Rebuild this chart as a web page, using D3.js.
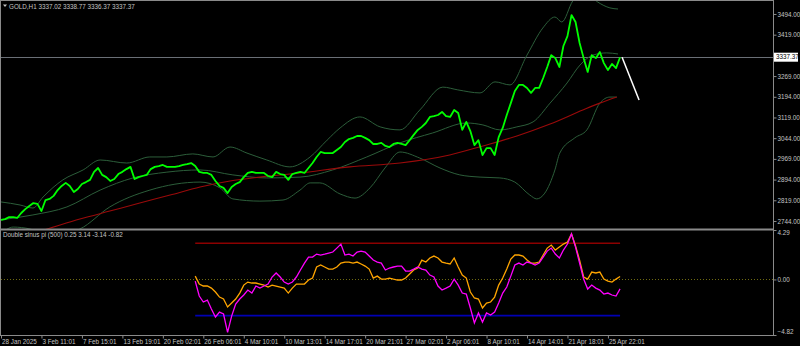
<!DOCTYPE html>
<html>
<head>
<meta charset="utf-8">
<script src="https://cdn.jsdelivr.net/npm/d3@7"></script>
<style>
  html, body { margin: 0; padding: 0; background: #000; }
  svg { display: block; }
  text { font-family: "Liberation Sans", Arial, sans-serif; }
</style>
</head>
<body>
<div id="chart"></div>
<script>
// ---- data (bars are H1 bar numbers from the left edge, prices in USD) ----
const closeStep = 10;
const close = [
  2748, 2751, 2758, 2758, 2755, 2773, 2787, 2798, 2809, 2806,
  2780, 2820, 2824, 2835, 2856, 2871, 2882, 2871, 2849, 2860,
  2878, 2885, 2893, 2922, 2936, 2911, 2903, 2889, 2896, 2914,
  2922, 2932, 2940, 2896, 2903, 2907, 2911, 2932, 2940, 2943,
  2947, 2940, 2940, 2940, 2943, 2947, 2950, 2954, 2943, 2922,
  2918, 2918, 2911, 2889, 2871, 2864, 2845, 2867, 2878, 2885,
  2903, 2918, 2922, 2918, 2918, 2918, 2907, 2903, 2922, 2914,
  2911, 2893, 2914, 2918, 2922, 2918, 2936, 2954, 2976, 2994,
  2990, 2990, 2990, 3001, 3012, 3030, 3041, 3045, 3052, 3052,
  3045, 3037, 3023, 3023, 3027, 3016, 3012, 3023, 3027, 3023,
  3019, 3037, 3056, 3074, 3085, 3099, 3121, 3124, 3128, 3139,
  3124, 3121, 3146, 3135, 3074, 3103, 3070, 3019, 3037, 2983,
  3008, 3008, 2983, 3048, 3081, 3128, 3171, 3215, 3237, 3237,
  3226, 3208, 3226, 3226, 3262, 3302, 3345, 3334, 3302, 3378,
  3414, 3490, 3465, 3389, 3334, 3284, 3345, 3334, 3356, 3316,
  3291, 3313, 3298, 3337.37
];

// Bollinger bands and moving average: [bar, price]
const bandUpper = [[0,2813],[47,2802],[79,2791],[104,2831],[153,2893],[203,2929],[245,2965],[311,2954],
  [368,2976],[410,2976],[474,2987],[524,2976],[566,3012],[608,2990],[657,2965],[714,2940],[764,2976],
  [806,3037],[838,3081],[887,3121],[937,3085],[986,3074],[1035,3146],[1092,3229],[1129,3219],[1184,3208],
  [1221,3248],[1258,3237],[1300,3345],[1339,3443],[1369,3483],[1386,3465],[1413,3541],[1443,3574],
  [1475,3537],[1505,3516],[1525,3512]];
const bandMiddle = [[0,2748],[79,2766],[163,2795],[245,2856],[326,2900],[410,2921],[492,2929],[573,2911],
  [657,2900],[739,2903],[820,2929],[904,2976],[986,3027],[1067,3063],[1151,3099],[1191,3092],[1233,3074],
  [1275,3085],[1315,3103],[1357,3171],[1399,3244],[1431,3309],[1463,3345],[1497,3353],[1525,3349]];
const bandLower = [[0,2697],[30,2722],[72,2715],[121,2690],[195,2715],[269,2795],[368,2856],[492,2885],
  [541,2864],[573,2824],[640,2816],[697,2820],[739,2856],[764,2882],[788,2882],[838,2842],[875,2827],
  [912,2864],[949,2936],[986,2994],[1035,2972],[1085,2936],[1134,2911],[1184,2903],[1233,2900],
  [1270,2885],[1307,2838],[1324,2824],[1344,2845],[1369,2929],[1381,2990],[1418,3045],[1448,3074],
  [1480,3171],[1505,3193],[1522,3193]];
const maLine = [[47,2686],[114,2715],[195,2751],[269,2780],[343,2809],[418,2838],[492,2867],[566,2889],
  [640,2903],[739,2918],[862,2940],[986,2954],[1109,2983],[1191,3016],[1275,3052],[1357,3095],
  [1438,3146],[1480,3171],[1522,3193]];
const trendLine = [[1535, 3337.37], [1577, 3182]];

// indicator "Double sinus pi (500)"
const indStart = 480, indStep = 10;
const sinusA = [ // magenta
  -0.14, -1.44, -1.96, -1.79, -2.57, -3.26, -2.83, -3.00, -4.60, -3.18,
  -2.13, -1.70, -1.35, -0.92, -1.18, -0.57, -0.75, -0.57, -0.40, 0.21,
  0.56, 0.21, -0.23, -0.40, -0.23, 0.21, 0.82, 1.42, 1.94, 1.94,
  2.20, 2.12, 2.20, 2.29, 2.38, 2.72, 3.07, 2.12, 2.20, 2.03,
  2.38, 2.46, 2.38, 2.03, 1.68, 1.51, 1.42, 0.82, 0.99, 1.08,
  1.16, 1.16, 0.73, 0.73, 0.90, 1.08, 0.90, 0.82, 0.38, 0.21,
  -0.57, -0.92, -0.75, -0.57, 0.03, -0.49, -1.18, -1.27, -2.48, -3.78,
  -2.91, -3.70, -2.91, -3.09, -2.83, -2.05, -1.18, -0.66, 0.29, 1.25,
  1.42, 1.25, 1.51, 1.42, 1.25, 1.42, 1.94, 2.46, 2.72, 2.20,
  1.86, 2.55, 3.07, 3.95, 2.81, 1.42, 0.03, -0.83, -0.49, -0.75,
  -0.92, -1.27, -1.18, -1.35, -1.44, -0.82
];
const sinusB = [ // orange
  0.29, -0.40, -0.57, -0.57, -0.75, -1.09, -1.53, -1.70, -2.39, -2.05,
  -1.70, -1.18, -0.49, -0.23, -0.31, -0.31, -0.40, -0.49, -0.66, -0.49,
  -0.57, -0.66, -0.75, -1.18, -0.75, -0.40, -0.40, -0.40, -0.05, 0.12,
  1.08, 1.25, 1.08, 0.90, 0.90, 1.08, 1.42, 1.51, 1.51, 1.42,
  1.51, 1.34, 1.16, 0.90, 0.12, 0.29, 0.03, 0.03, 0.12, 0.03,
  -0.05, -0.05, 0.12, 0.47, 0.82, 0.99, 1.68, 1.51, 1.86, 2.03,
  1.86, 1.51, 1.42, 1.34, 1.86, 1.08, 0.38, 0.12, -1.09, -1.61,
  -1.70, -2.48, -2.05, -1.96, -1.53, -0.49, 0.12, 0.90, 1.77, 2.12,
  2.12, 2.03, 1.68, 1.42, 1.42, 1.51, 2.12, 2.72, 2.98, 2.55,
  2.81, 3.07, 3.24, 3.95, 2.90, 1.68, 0.21, 0.03, 0.64, 0.56,
  0.64, 0.03, -0.14, -0.23, 0.03, 0.25
];
const levels = [3.14, -3.14];

const priceTicks = [2744, 2819, 2894, 2969, 3044, 3119, 3194, 3269, 3419, 3494];
const lastPrice = 3337.37;
const indTicks = [4.29, 0, -4.82];
const timeLabels = ["28 Jan 2025", "3 Feb 11:01", "7 Feb 15:01", "13 Feb 19:01", "20 Feb 02:01",
  "26 Feb 06:01", "4 Mar 10:01", "10 Mar 13:01", "14 Mar 17:01", "20 Mar 21:01", "27 Mar 02:01",
  "2 Apr 06:01", "8 Apr 10:01", "14 Apr 14:01", "21 Apr 18:01", "25 Apr 22:01"];
const timeBars = timeLabels.map((d, i) => i * 100);

// ---- layout ----
const W = 800, H = 346;
const right = 773;
const mainTop = 1, mainBot = 229, indTop = 230, indBot = 335;

const svg = d3.select("#chart").append("svg").attr("width", W).attr("height", H)
  .style("background", "#000");

const x = d3.scaleLinear().domain([0, 1908]).range([1, right]);
const yP = d3.scaleLinear().domain([2715, 3541]).range([mainBot, mainTop]);
const yI = d3.scaleLinear().domain([-4.82, 4.29]).range([indBot, indTop]);

const defs = svg.append("defs");
defs.append("clipPath").attr("id", "clipMain").append("rect")
  .attr("x", 1).attr("y", mainTop).attr("width", right - 1).attr("height", mainBot - mainTop);
defs.append("clipPath").attr("id", "clipInd").append("rect")
  .attr("x", 1).attr("y", indTop).attr("width", right - 1).attr("height", indBot - indTop);

const line = d3.line().x(d => x(d[0])).y(d => yP(d[1]));

// ---- main panel ----
const gMain = svg.append("g").attr("clip-path", "url(#clipMain)");

// bid line
gMain.append("line")
  .attr("x1", 0).attr("x2", right)
  .attr("y1", Math.round(yP(lastPrice)) + 0.5).attr("y2", Math.round(yP(lastPrice)) + 0.5)
  .attr("stroke", "#6a6f76").attr("stroke-width", 1);

[bandUpper, bandMiddle, bandLower].forEach(b => {
  gMain.append("path").datum(b).attr("d", line.curve(d3.curveMonotoneX))
    .attr("fill", "none").attr("stroke", "#2c5e3a").attr("stroke-width", 1);
});
line.curve(d3.curveLinear);

gMain.append("path").datum(maLine).attr("d", line.curve(d3.curveMonotoneX))
  .attr("fill", "none").attr("stroke", "#9a0a0a").attr("stroke-width", 1.1);
line.curve(d3.curveLinear);

gMain.append("path").datum(close.map((v, i) => [i * closeStep, v])).attr("d", line)
  .attr("fill", "none").attr("stroke", "#00ff00").attr("stroke-width", 1.8)
  .attr("stroke-linejoin", "round");

gMain.append("path").datum(trendLine).attr("d", line)
  .attr("fill", "none").attr("stroke", "#ffffff").attr("stroke-width", 1.5);

// ---- indicator panel ----
const gInd = svg.append("g").attr("clip-path", "url(#clipInd)");
const lineI = d3.line().x(d => x(d[0])).y(d => yI(d[1]));

gInd.append("line")
  .attr("x1", 1).attr("x2", right)
  .attr("y1", Math.round(yI(0)) + 0.5).attr("y2", Math.round(yI(0)) + 0.5)
  .attr("stroke", "#6e6a10").attr("stroke-dasharray", "1,2");

const indEnd = indStart + (sinusA.length - 1) * indStep;
levels.forEach((lv, i) => {
  gInd.append("line")
    .attr("x1", x(indStart)).attr("x2", x(indEnd))
    .attr("y1", yI(lv)).attr("y2", yI(lv))
    .attr("stroke", i === 0 ? "#8c0000" : "#0000b4").attr("stroke-width", 1.6);
});

gInd.append("path").datum(sinusB.map((v, i) => [indStart + i * indStep, v])).attr("d", lineI)
  .attr("fill", "none").attr("stroke", "#ffa500").attr("stroke-width", 1.3);
gInd.append("path").datum(sinusA.map((v, i) => [indStart + i * indStep, v])).attr("d", lineI)
  .attr("fill", "none").attr("stroke", "#ff00ff").attr("stroke-width", 1.3);

// ---- frames ----
svg.append("rect").attr("x", 0.5).attr("y", 0.5).attr("width", right).attr("height", indBot)
  .attr("fill", "none").attr("stroke", "#8a8a8a");
svg.append("line").attr("x1", 0).attr("x2", right + 1).attr("y1", 229.5).attr("y2", 229.5)
  .attr("stroke", "#8a8a8a").attr("stroke-width", 2);

// ---- axes ----
const axisColor = "#c4c4c4";
function styleAxis(g) {
  g.select(".domain").remove();
  g.selectAll("line").attr("stroke", "#8a8a8a");
  g.selectAll("text").attr("fill", axisColor).style("font-size", "6.3px");
}

svg.append("g").attr("transform", `translate(${right + 0.5},0)`)
  .call(d3.axisRight(yP).tickValues(priceTicks).tickFormat(d3.format(".2f")).tickSize(3).tickPadding(1))
  .call(styleAxis);

// current price tag
const lp = yP(lastPrice);
svg.append("rect").attr("x", right + 1).attr("y", lp - 4.5).attr("width", 24).attr("height", 9)
  .attr("fill", "#ffffff");
svg.append("text").attr("x", right + 3).attr("y", lp).attr("dy", "0.33em")
  .attr("fill", "#000").style("font-size", "6.3px").text(d3.format(".2f")(lastPrice));

const gIndAxis = svg.append("g").attr("transform", `translate(${right + 0.5},0)`)
  .call(d3.axisRight(yI).tickValues(indTicks).tickFormat(d3.format(".2f")).tickSize(3).tickPadding(1))
  .call(styleAxis);
gIndAxis.selectAll(".tick text").attr("dy", (d, i) => i === 0 ? "0.75em" : (i === 2 ? "-0.2em" : "0.32em"));

const gX = svg.append("g").attr("transform", `translate(0,${indBot + 0.5})`)
  .call(d3.axisBottom(x).tickValues(timeBars).tickFormat((d, i) => timeLabels[i]).tickSize(3).tickPadding(1))
  .call(styleAxis);
gX.selectAll(".tick text").attr("text-anchor", "start").attr("x", 0.5);

// ---- titles ----
svg.append("path").attr("d", "M3,4.5 L7,4.5 L5,7 Z").attr("fill", axisColor);
svg.append("text").attr("x", 9).attr("y", 8.5).attr("fill", axisColor).style("font-size", "6.3px")
  .text("GOLD,H1  3337.02 3338.77 3336.37 3337.37");
svg.append("text").attr("x", 3).attr("y", 237).attr("fill", axisColor).style("font-size", "6.3px")
  .text("Double sinus pi (500) 0.25 3.14 -3.14 -0.82");
</script>
</body>
</html>
